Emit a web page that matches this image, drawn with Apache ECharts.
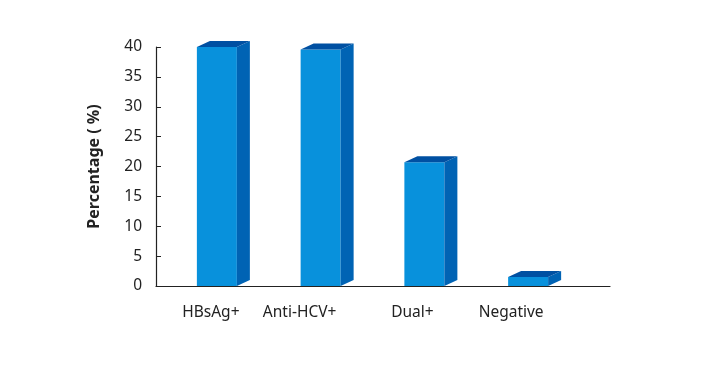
<!DOCTYPE html>
<html><head><meta charset="utf-8">
<script src="https://cdn.jsdelivr.net/npm/echarts@6/dist/echarts.min.js"></script>
<style>html,body{margin:0;padding:0;background:#fff}#c{width:708px;height:388px}</style>
</head><body><div id="c"></div>
<script>
const categories = ['HBsAg+', 'Anti-HCV+', 'Dual+', 'Negative'];
const values = [40, 39.6, 20.7, 1.5];
const yTicks = [0, 5, 10, 15, 20, 25, 30, 35, 40];
const labelShift = [6, 21, 12, 17];

const FONT = '"Noto Sans", "Open Sans", sans-serif';
const rich = {};
labelShift.forEach((s, i) => { rich['l' + i] = { fontFamily: FONT, fontSize: 15.5, color: '#222', padding: [0, 2 * s, 0, 0] }; });

const chart = echarts.init(document.getElementById('c'), null, { renderer: 'canvas' });
const FRONT_W = 40, DX = 13, DY = 6;
chart.setOption({
  animation: false,
  grid: [
    { left: 156, right: 98, top: 47, bottom: 102 },
    { left: 165, right: 128, top: 47, bottom: 102 }
  ],
  xAxis: [
    { gridIndex: 0, type: 'value', min: 0, max: 1, axisLine: { show: true, lineStyle: { color: '#222', width: 1.2 } }, axisTick: { show: false }, axisLabel: { show: false }, splitLine: { show: false } },
    { gridIndex: 1, type: 'category', data: categories, axisLine: { show: false }, axisTick: { show: false },
      axisLabel: { margin: 19, formatter: (v, i) => '{l' + i + '|' + v + '}', rich: rich } }
  ],
  yAxis: [
    { gridIndex: 0, type: 'value', min: yTicks[0], max: yTicks[yTicks.length - 1], interval: 5,
      name: 'Percentage ( %)', nameLocation: 'middle', nameGap: 54,
      nameTextStyle: { fontFamily: FONT, fontSize: 16, fontWeight: 'bold', color: '#222' },
      axisLine: { show: true, lineStyle: { color: '#222', width: 1.2 } },
      axisTick: { show: true, inside: true, length: 5, lineStyle: { color: '#222' } },
      axisLabel: { margin: 14, fontFamily: FONT, fontSize: 15.5, color: '#222' },
      splitLine: { show: false } },
    { gridIndex: 1, type: 'value', min: 0, max: 40, show: false }
  ],
  series: [{
    type: 'custom', xAxisIndex: 1, yAxisIndex: 1,
    data: values.map((v, i) => [i, v]),
    renderItem: function (params, api) {
      const top = api.coord([api.value(0), api.value(1)]);
      const base = api.coord([api.value(0), 0]);
      const x0 = top[0] - FRONT_W / 2, x1 = top[0] + FRONT_W / 2;
      const yt = top[1], yb = base[1];
      return { type: 'group', children: [
        { type: 'rect', shape: { x: x0, y: yt, width: FRONT_W, height: yb - yt }, style: { fill: '#0891dc' } },
        { type: 'polygon', shape: { points: [[x1, yt], [x1 + DX, yt - DY], [x1 + DX, yb - DY], [x1, yb]] }, style: { fill: '#0063b4' } },
        { type: 'polygon', shape: { points: [[x0, yt], [x0 + DX, yt - DY], [x1 + DX, yt - DY], [x1, yt]] }, style: { fill: '#0050a2' } }
      ] };
    }
  }]
});
</script></body></html>
